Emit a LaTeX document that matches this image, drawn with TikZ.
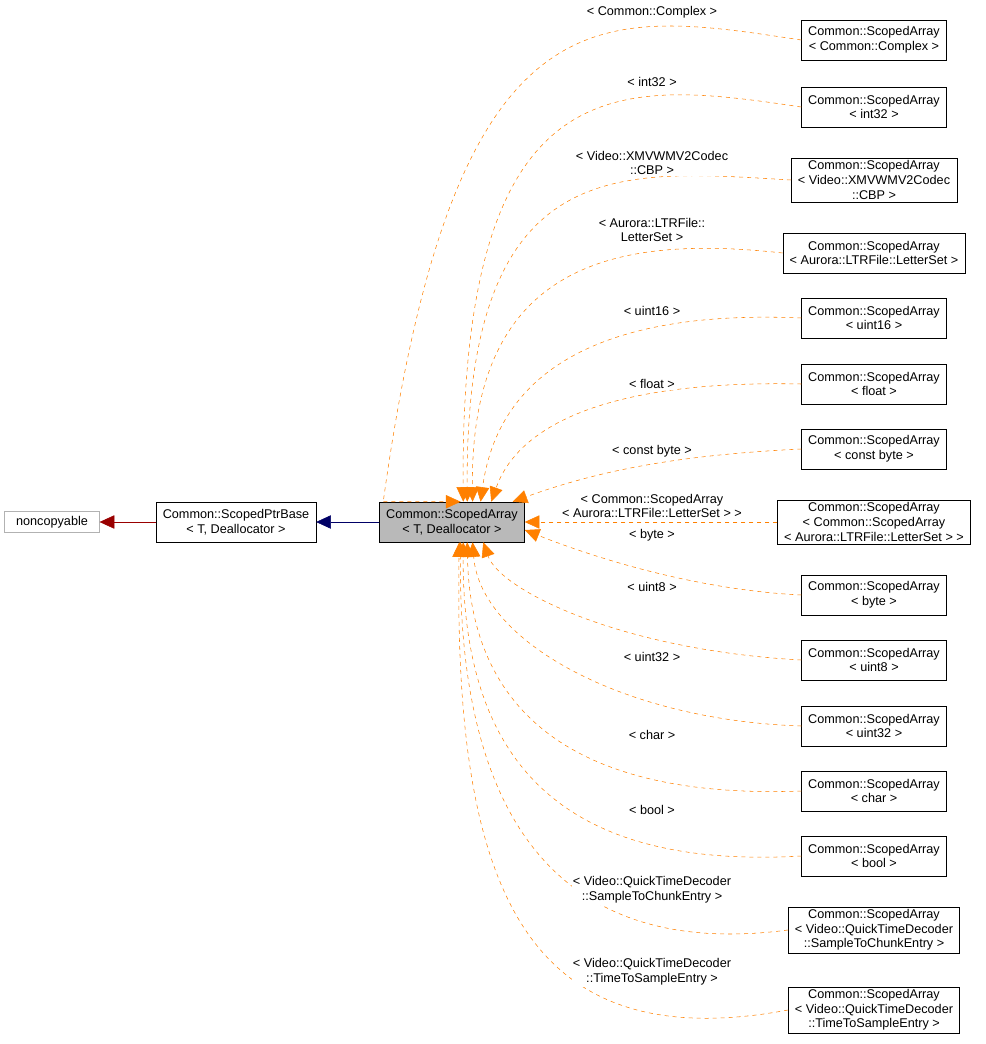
\documentclass[tikz,border=0pt]{standalone}
\usepackage{fontspec}
\setmainfont{Liberation Sans}
\usetikzlibrary{arrows.meta}
\begin{document}
\begin{tikzpicture}[x=0.75pt,y=-0.75pt,font=\fontsize{9.5}{11}\selectfont,
	cls/.style={draw,align=center,inner xsep=5pt,inner ysep=2pt,minimum height=30pt},
	dep/.style={draw=orange,dashed,-{Triangle[length=11pt,width=10pt,fill=orange]}},
	lbl/.style={align=center,inner sep=1pt,fill=white}]
	\useasboundingbox (0,0) rectangle (985,1044);

	\node[draw=gray!60,inner sep=3pt,minimum height=16pt,minimum width=71pt] (nc) at (52,522) {noncopyable};
	\node[cls] (base) at (236,522) {Common::ScopedPtrBase\\\textless{} T, Deallocator \textgreater};
	\node[cls,fill=gray!55] (main) at (452,522) {Common::ScopedArray\\\textless{} T, Deallocator \textgreater};
	\draw[draw=red!60!black,-{Triangle[length=11pt,width=10pt,fill=red!60!black]}] (base) -- (nc);
	\draw[draw=blue!40!black,-{Triangle[length=11pt,width=10pt,fill=blue!40!black]}] (main) -- (base);

	% derived instantiations
	\node[cls] (complex) at (874,40) {Common::ScopedArray\\\textless{} Common::Complex \textgreater};
	\node[cls] (int32) at (874,107) {Common::ScopedArray\\\textless{} int32 \textgreater};
	\node[cls] (cbp) at (874,180) {Common::ScopedArray\\\textless{} Video::XMVWMV2Codec\\::CBP \textgreater};
	\node[cls] (letter) at (874,253) {Common::ScopedArray\\\textless{} Aurora::LTRFile::LetterSet \textgreater};
	\node[cls] (uint16) at (874,318) {Common::ScopedArray\\\textless{} uint16 \textgreater};
	\node[cls] (float) at (874,384) {Common::ScopedArray\\\textless{} float \textgreater};
	\node[cls] (cbyte) at (874,449) {Common::ScopedArray\\\textless{} const byte \textgreater};
	\node[cls] (nested) at (874,522) {Common::ScopedArray\\\textless{} Common::ScopedArray\\\textless{} Aurora::LTRFile::LetterSet \textgreater{} \textgreater};
	\node[cls] (byte) at (874,595) {Common::ScopedArray\\\textless{} byte \textgreater};
	\node[cls] (uint8) at (874,660) {Common::ScopedArray\\\textless{} uint8 \textgreater};
	\node[cls] (uint32) at (874,726) {Common::ScopedArray\\\textless{} uint32 \textgreater};
	\node[cls] (char) at (874,791) {Common::ScopedArray\\\textless{} char \textgreater};
	\node[cls] (bool) at (874,856) {Common::ScopedArray\\\textless{} bool \textgreater};
	\node[cls] (chunk) at (874,930) {Common::ScopedArray\\\textless{} Video::QuickTimeDecoder\\::SampleToChunkEntry \textgreater};
	\node[cls] (sample) at (874,1010) {Common::ScopedArray\\\textless{} Video::QuickTimeDecoder\\::TimeToSampleEntry \textgreater};

	\draw[dep] (complex.west) .. controls (600,10) and (455,-20) .. ([xshift=3pt]main.north west |- main.north) ++(0,0) -- ([xshift=61pt]main.north west);
	\draw[dep] (int32.west) .. controls (620,80) and (460,60) .. ([xshift=63pt]main.north west);
	\draw[dep] (cbp.west) .. controls (620,170) and (465,150) .. ([xshift=66pt]main.north west);
	\draw[dep] (letter.west) .. controls (620,235) and (470,260) .. ([xshift=70pt]main.north west);
	\draw[dep] (uint16.west) .. controls (620,310) and (500,360) .. ([xshift=76pt]main.north west);
	\draw[dep] (float.west) .. controls (620,380) and (520,420) .. ([xshift=84pt]main.north west);
	\draw[dep] (cbyte.west) .. controls (680,455) and (600,470) .. ([xshift=100pt]main.north west);
	\draw[dep] (nested) -- (main);
	\draw[dep] (byte.west) .. controls (700,590) and (600,560) .. ([yshift=-6pt]main.east);
	\draw[dep] (uint8.west) .. controls (620,650) and (500,590) .. ([xshift=78pt]main.south west);
	\draw[dep] (uint32.west) .. controls (620,720) and (480,640) .. ([xshift=70pt]main.south west);
	\draw[dep] (char.west) .. controls (560,800) and (470,700) .. ([xshift=66pt]main.south west);
	\draw[dep] (bool.west) .. controls (560,870) and (462,760) .. ([xshift=63pt]main.south west);
	\draw[dep] (chunk.west) .. controls (560,960) and (458,820) .. ([xshift=61pt]main.south west);
	\draw[dep] (sample.west) .. controls (520,1060) and (454,880) .. ([xshift=60pt]main.south west);

	\node[lbl] (lcomplex) at (652,12) {\textless{} Common::Complex \textgreater};
	\node[lbl] (lint32) at (652,82) {\textless{} int32 \textgreater};
	\node[lbl] (lcbp) at (652,163) {\textless{} Video::XMVWMV2Codec\\::CBP \textgreater};
	\node[lbl] (lletter) at (652,230) {\textless{} Aurora::LTRFile::\\LetterSet \textgreater};
	\node[lbl] (luint16) at (652,311) {\textless{} uint16 \textgreater};
	\node[lbl] (lfloat) at (652,384) {\textless{} float \textgreater};
	\node[lbl] (lcbyte) at (652,451) {\textless{} const byte \textgreater};
	\node[lbl] (lnested) at (652,506) {\textless{} Common::ScopedArray\\\textless{} Aurora::LTRFile::LetterSet \textgreater{} \textgreater};
	\node[lbl] (lbyte) at (652,535) {\textless{} byte \textgreater};
	\node[lbl] (luint8) at (652,587) {\textless{} uint8 \textgreater};
	\node[lbl] (luint32) at (652,657) {\textless{} uint32 \textgreater};
	\node[lbl] (lchar) at (652,735) {\textless{} char \textgreater};
	\node[lbl] (lbool) at (652,810) {\textless{} bool \textgreater};
	\node[lbl] (lchunk) at (652,890) {\textless{} Video::QuickTimeDecoder\\::SampleToChunkEntry \textgreater};
	\node[lbl] (lsample) at (652,972) {\textless{} Video::QuickTimeDecoder\\::TimeToSampleEntry \textgreater};
\end{tikzpicture}
\end{document}
